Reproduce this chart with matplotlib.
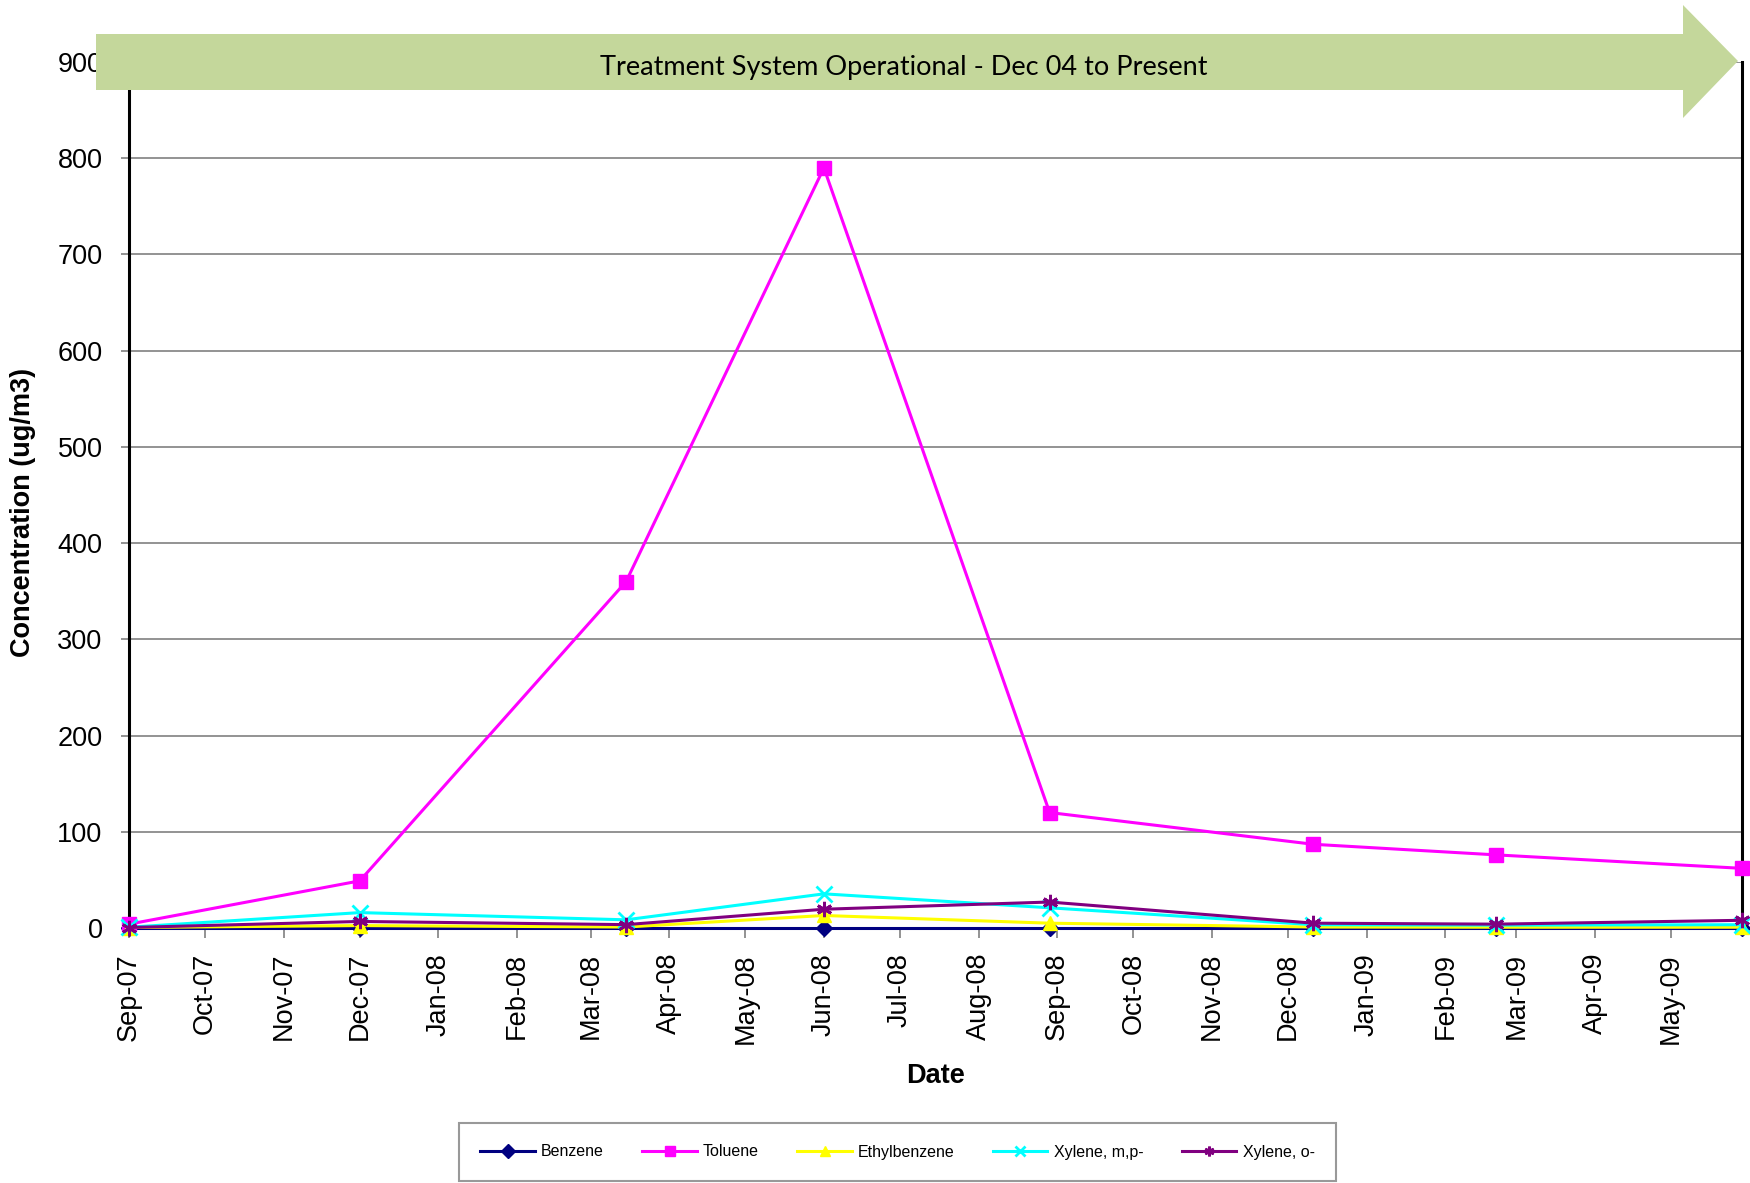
import matplotlib
matplotlib.use("Agg")
import matplotlib.pyplot as plt
import matplotlib.dates as mdates
from matplotlib.patches import Polygon
import datetime as dt

# ---------------- data ----------------
sample_dates = ["2007-09-13", "2007-12-13", "2008-03-27", "2008-06-13",
                "2008-09-10", "2008-12-23", "2009-03-05", "2009-06-10"]
benzene      = [0.3, 0.3, 0.3, 0.3, 0.3, 0.3, 0.3, 0.3]
toluene      = [4, 49, 360, 790, 120, 87, 76, 62]
ethylbenzene = [0.5, 2.5, 1, 13, 5, 1, 0.8, 0.8]
xylene_mp    = [0.8, 16, 8.5, 35.5, 21, 3.4, 3, 3.4]
xylene_o     = [0.5, 6.8, 3.5, 19.5, 27, 5, 4, 8]
series_names = ["Benzene", "Toluene", "Ethylbenzene", "Xylene, m,p-", "Xylene, o-"]
tick_labels_start = "2007-09-13"
n_month_ticks = 21
y_ticks = [0, 100, 200, 300, 400, 500, 600, 700, 800, 900]
banner_text = "Treatment System Operational - Dec 04 to Present"

# ---------------- styling ----------------
W, H = 1750, 1183
fig = plt.figure(figsize=(W / 100, H / 100), dpi=100)
plt.rcParams['font.family'] = ['Liberation Sans', 'DejaVu Sans']

def fx(px):
    return px / W

def fy(py):
    return 1 - py / H

ax = fig.add_axes([fx(129), fy(928), fx(1742) - fx(129), fy(62) - fy(928)])

dates = [dt.datetime.strptime(d, "%Y-%m-%d") for d in sample_dates]
start = dt.datetime.strptime(tick_labels_start, "%Y-%m-%d")
ticks = []
for i in range(n_month_ticks):
    m = start.month - 1 + i
    ticks.append(dt.datetime(start.year + m // 12, m % 12 + 1, start.day))

colors = ["#000080", "#FF00FF", "#FFFF00", "#00FFFF", "#800080"]
markers = ["D", "s", "^", "x", (6, 2, 0)]
msizes = [8, 10, 10, 11, 11]
data = [benzene, toluene, ethylbenzene, xylene_mp, xylene_o]

for name, vals, c, mk, ms in zip(series_names, data, colors, markers, msizes):
    ax.plot(dates, vals, color=c, lw=2.2, marker=mk, markersize=ms,
            markeredgewidth=2 if mk in ("x", (6, 2, 0)) else 1,
            markerfacecolor=c, markeredgecolor=c, label=name, clip_on=False, zorder=3)

ax.set_xlim(dates[0], dates[-1])
ax.set_ylim(0, 900)
ax.set_yticks(y_ticks)
ax.set_xticks(ticks)
ax.xaxis.set_major_formatter(mdates.DateFormatter("%b-%y"))
for lab in ax.get_xticklabels():
    lab.set_rotation(90)

ax.grid(axis="y", color="#808080", lw=1.2, zorder=0)
ax.set_axisbelow(True)
ax.spines["top"].set_visible(False)
ax.spines["left"].set_color("black")
ax.spines["left"].set_linewidth(2.2)
ax.spines["right"].set_color("black")
ax.spines["right"].set_linewidth(2.2)
ax.spines["bottom"].set_color("#808080")
ax.spines["bottom"].set_linewidth(1.2)

ax.tick_params(axis="x", length=7, width=1.2, color="#808080", pad=11, labelsize=19.5)
ax.tick_params(axis="y", length=6, width=1.2, color="#808080", pad=13, labelsize=19.5)

ax.set_xlabel("Date", fontsize=19.5, fontweight="bold", labelpad=14)
ax.set_ylabel("Concentration (ug/m3)", fontsize=19.5, fontweight="bold")
ax.yaxis.set_label_coords(-0.0577, 0.48)

# banner arrow
arrow_px = [(96, 34), (1683, 34), (1683, 5), (1738, 61), (1683, 118), (1683, 90), (96, 90)]
poly = Polygon([(fx(x), fy(y)) for x, y in arrow_px], closed=True,
               transform=fig.transFigure, facecolor="#C4D79B", edgecolor="none", zorder=5)
fig.patches.append(poly)
fig.text(fx(904), fy(68), banner_text, ha="center", va="center", fontsize=19.5,
         family=["Lato", "DejaVu Sans"], zorder=6)

# legend
leg = fig.legend(loc="center", bbox_to_anchor=(fx(897.5), fy(1152)), ncol=5,
                 fontsize=11.5, frameon=True, fancybox=False, handlelength=3.4,
                 columnspacing=2.4, handletextpad=0.4, borderpad=1.35)
leg.get_frame().set_edgecolor("#808080")
leg.get_frame().set_linewidth(1.5)
for h in leg.legend_handles:
    h.set_markersize(7)

fig.savefig("out.png", dpi=100)
